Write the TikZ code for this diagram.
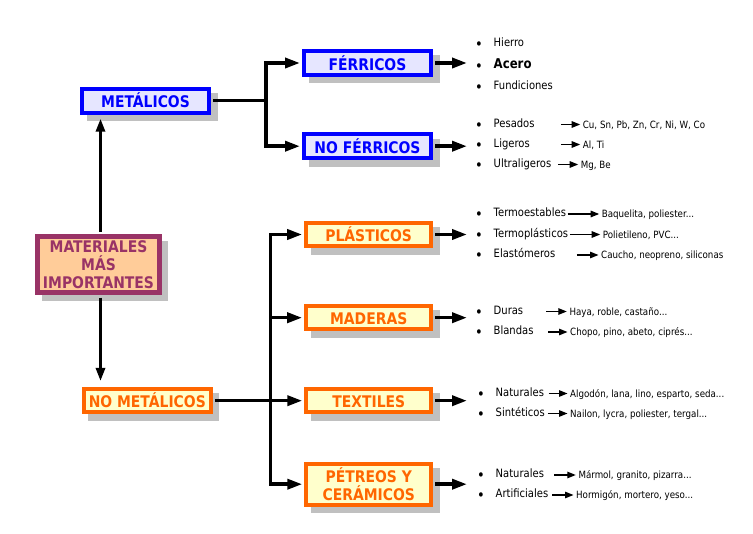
\documentclass[tikz,border=0pt]{standalone}
\usepackage{fontspec}
\setmainfont{DejaVu Sans}[FakeStretch=0.87]
\usepackage{tikz}
\usetikzlibrary{arrows.meta}
\usetikzlibrary{shadows}

\definecolor{azul}{RGB}{0,0,255}
\definecolor{lila}{RGB}{230,230,255}
\definecolor{naranja}{RGB}{255,102,0}
\definecolor{crema}{RGB}{255,255,204}
\definecolor{granate}{RGB}{153,51,102}
\definecolor{salmon}{RGB}{255,204,153}
\definecolor{sombra}{RGB}{192,192,192}

\newcommand{\bul}{\makebox[18.5pt][l]{\fontsize{15}{15}\selectfont\mdseries\raisebox{-3pt}{\textbullet}}}

\begin{document}
\begin{tikzpicture}[x=1pt,y=-1pt,
	caja/.style={draw, line width=4pt, inner sep=0pt, align=center,
		font=\fontsize{16}{18.3}\selectfont\bfseries,
		drop shadow={shadow xshift=6.5pt, shadow yshift=-6.5pt, fill=sombra, draw=sombra, line width=4pt, opacity=1}},
	linea/.style={text height=14.5pt, text depth=0pt},
	metal/.style={caja, linea, draw=azul, fill=lila, text=azul, minimum width=127pt, minimum height=24pt},
	nometal/.style={caja, draw=naranja, fill=crema, text=naranja, minimum width=125pt, minimum height=23.5pt},
	rama/.style={line width=3.5pt},
	flecha/.style={rama, -{Triangle[length=15pt,width=10pt]}, shorten >=2pt},
	eje/.style={line width=3pt, -{Triangle[length=13pt,width=9pt]}, shorten >=4pt},
	item/.style={anchor=west, inner sep=0pt, text height=5.4pt, text depth=0pt,
		font=\fontsize{11.5}{13}\selectfont},
	det/.style={anchor=west, inner sep=0pt, text height=7.3pt, text depth=0pt,
		font=\fontsize{10}{12}\selectfont},
	fl/.style={line width=1.3pt, -{Triangle[length=8.5pt,width=6.5pt]}, shorten >=2.5pt}
	]
	\useasboundingbox (0,0) rectangle (753,534);
	
	\node[metal] (MET) at (145.5,100.7) {METÁLICOS};
	\node[metal] (FER) at (367.5,63) {FÉRRICOS};
	\node[metal] (NOFER) at (367.5,146.2) {NO FÉRRICOS};
	\node[caja, draw=granate, fill=salmon, text=granate, line width=5pt,
		minimum width=122pt, minimum height=56pt] (MAT) at (98.5,264.7) {MATERIALES\\MÁS\\IMPORTANTES};
	\node[nometal, linea, minimum width=127pt] (NOMET) at (147.3,400.7) {NO METÁLICOS};
	\node[nometal, linea] (PLA) at (368.7,234.5) {PLÁSTICOS};
	\node[nometal, linea] (MAD) at (368.7,317.7) {MADERAS};
	\node[nometal, linea] (TEX) at (368.8,400.7) {TEXTILES};
	\node[nometal, minimum height=41pt] (PET) at (368.8,484.2) {PÉTREOS Y\\CERÁMICOS};
	
	\coordinate (jV) at (100.5,0);
	\coordinate (jM) at (266,0);
	\coordinate (jN) at (270.5,0);
	\coordinate (lst) at (469,0);
	
	\draw[eje, shorten <=2.5pt] (MAT.north -| jV) -- (MET.south -| jV);
	\draw[eje, shorten <=2.5pt, shorten >=6pt] (MAT.south -| jV) -- (NOMET.north -| jV);
	
	\draw[rama, shorten <=2pt] (MET.east) -- (MET.east -| jM);
	\draw[rama, line cap=rect] (FER.west -| jM) -- (NOFER.west -| jM);
	\draw[flecha] (FER.west -| jM) -- (FER.west);
	\draw[flecha] (NOFER.west -| jM) -- (NOFER.west);
	
	\draw[rama, line cap=rect] (PLA.west -| jN) -- (PET.west -| jN);
	\draw[flecha, shorten <=2pt] (NOMET.east) -- (TEX.west);
	\draw[flecha] (PLA.west -| jN) -- (PLA.west);
	\draw[flecha] (MAD.west -| jN) -- (MAD.west);
	\draw[flecha] (PET.west -| jN) -- (PET.west);
	
	\foreach \c in {FER,NOFER,PLA,MAD,TEX,PET}
		\draw[flecha, shorten <=2pt] (\c.east) -- (\c.east -| lst);
	
	% ferricos
	\node[item] (hie) at (475,44) {\bul Hierro};
	\node[item, font=\fontsize{13.5}{15}\selectfont\bfseries] (ace) at (475,65.7) {\bul Acero};
	\node[item] (fun) at (475,87) {\bul Fundiciones};
	
	% no ferricos
	\node[item] (pes) at (475,124.5) {\bul Pesados};
	\node[item] (lig) at (475,144.5) {\bul Ligeros};
	\node[item] (ult) at (475,164.5) {\bul Ultraligeros};
	\node[det] (pesD) at (582.7,124.5) {Cu, Sn, Pb, Zn, Cr, Ni, W, Co};
	\node[det] (ligD) at (582.7,144.5) {Al, Ti};
	\node[det] (ultD) at (580.7,164.5) {Mg, Be};
	\draw[fl, shorten <=26pt] (pes) -- (pesD);
	\draw[fl, shorten <=31pt] (lig) -- (ligD);
	\draw[fl, shorten <=7pt] (ult) -- (ultD);
	
	% plasticos
	\node[item] (tes) at (475,214) {\bul Termoestables};
	\node[item] (tpl) at (475,234.5) {\bul Termoplásticos};
	\node[item] (ela) at (475,255) {\bul Elastómeros};
	\node[det] (tesD) at (601.7,214) {Baquelita, poliester...};
	\node[det] (tplD) at (602.7,234.5) {Polietileno, PVC...};
	\node[det] (elaD) at (601,255) {Caucho, neopreno, siliconas};
	\draw[fl, shorten <=1.5pt] (tes) -- (tesD);
	\draw[fl, shorten <=1.5pt] (tpl) -- (tplD);
	\draw[fl, shorten <=21.4pt] (ela) -- (elaD);
	
	% maderas
	\node[item] (dur) at (475,311.5) {\bul Duras};
	\node[item] (bla) at (475,332) {\bul Blandas};
	\node[det] (durD) at (569.3,311.5) {Haya, roble, castaño...};
	\node[det] (blaD) at (570,332) {Chopo, pino, abeto, ciprés...};
	\draw[fl, shorten <=23pt] (dur) -- (durD);
	\draw[fl, shorten <=14.5pt] (bla) -- (blaD);
	
	% textiles
	\node[item] (natT) at (477,393.5) {\bul Naturales};
	\node[item] (sin) at (477,413.5) {\bul Sintéticos};
	\node[det] (natTD) at (570,393.5) {Algodón, lana, lino, esparto, seda...};
	\node[det] (sinD) at (570,413.5) {Nailon, lycra, poliester, tergal...};
	\draw[fl, shorten <=4.5pt] (natT) -- (natTD);
	\draw[fl, shorten <=3pt] (sin) -- (sinD);
	
	% petreos
	\node[item] (natP) at (477,475) {\bul Naturales};
	\node[item] (art) at (477,495) {\bul Artificiales};
	\node[det] (natPD) at (578.3,475) {Mármol, granito, pizarra...};
	\node[det] (artD) at (576,495) {Hormigón, mortero, yeso...};
	\draw[fl, shorten <=10pt] (natP) -- (natPD);
	\draw[fl, shorten <=3.7pt] (art) -- (artD);
\end{tikzpicture}
\end{document}
